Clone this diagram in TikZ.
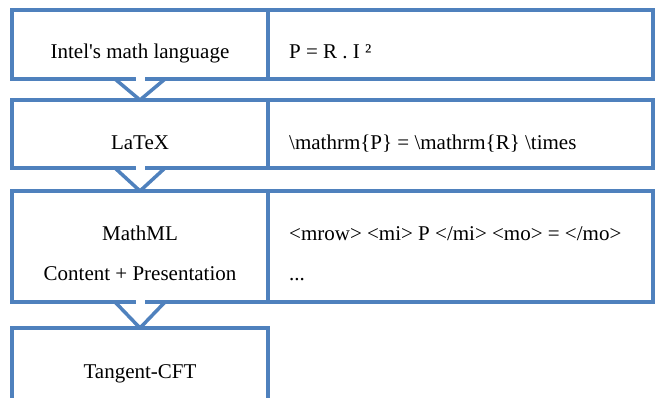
\documentclass[tikz,border=0pt]{standalone}
\usepackage{fontspec}
\setmainfont{Liberation Serif}
\usetikzlibrary{calc}
\definecolor{boxblue}{RGB}{79,129,189}

\tikzset{
  StepBox/.style = {draw=boxblue, line width=3.5pt, inner sep=0pt, outer sep=0pt, minimum width=256pt},
  ValBox/.style  = {StepBox, minimum width=385pt},
  StepText/.style = {anchor=base, inner sep=0pt, font=\fontsize{21}{25}\selectfont},
  ValText/.style  = {anchor=base west, inner sep=0pt, font=\fontsize{21}{25}\selectfont},
  FlowStyle/.style = {draw=boxblue, line width=3.5pt, line join=round},
  GapStyle/.style  = {draw=white, line width=4.5pt},
}

\begin{document}
\begin{tikzpicture}[x=1pt,y=-1pt]
    \clip (0,0) rectangle (659,397);
    \fill[white] (0,0) rectangle (659,397);

    % left column
    \node[StepBox, minimum height=69pt]  (S1) at (140,44.5) {};
    \node[StepBox, minimum height=68pt]  (S2) at (140,134) {};
    \node[StepBox, minimum height=111pt] (S3) at (140,246.5) {};
    \node[StepBox, minimum height=100pt] (S4) at (140,378) {};

    % right column
    \node[ValBox, minimum height=69pt]  (V1) at (460.5,44.5) {};
    \node[ValBox, minimum height=68pt]  (V2) at (460.5,134) {};
    \node[ValBox, minimum height=111pt] (V3) at (460.5,246.5) {};

    \node[StepText] (T1) at (140,58)  {Intel\textquotesingle s math language};
    \node[StepText] (T2) at (140,149) {LaTeX};
    \node[StepText] (T3a) at (140,240) {MathML};
    \node[StepText] (T3b) at (140,280) {Content + Presentation};
    \node[StepText] (T4) at (140,378) {Tangent-CFT};

    \node[ValText] (E1) at (289,58)  {P = R . I ²};
    \node[ValText] (E2) at (289,149) {\textbackslash mathrm\{P\} = \textbackslash mathrm\{R\} \textbackslash times};
    \node[ValText] (E3a) at (289,240) {<mrow> <mi> P </mi> <mo> = </mo>};
    \node[ValText] (E3b) at (289,280) {...};

    % flow chevrons
    \foreach \a/\b in {S1/S2, S2/S3, S3/S4}{
        \draw[GapStyle] ($(\a.south)+(-4.5,0)$) -- ($(\a.south)+(4.5,0)$);
        \draw[FlowStyle] ($(\a.south)+(-25,0)$) -- (\b.north) -- ($(\a.south)+(25,0)$);
    }
\end{tikzpicture}
\end{document}
